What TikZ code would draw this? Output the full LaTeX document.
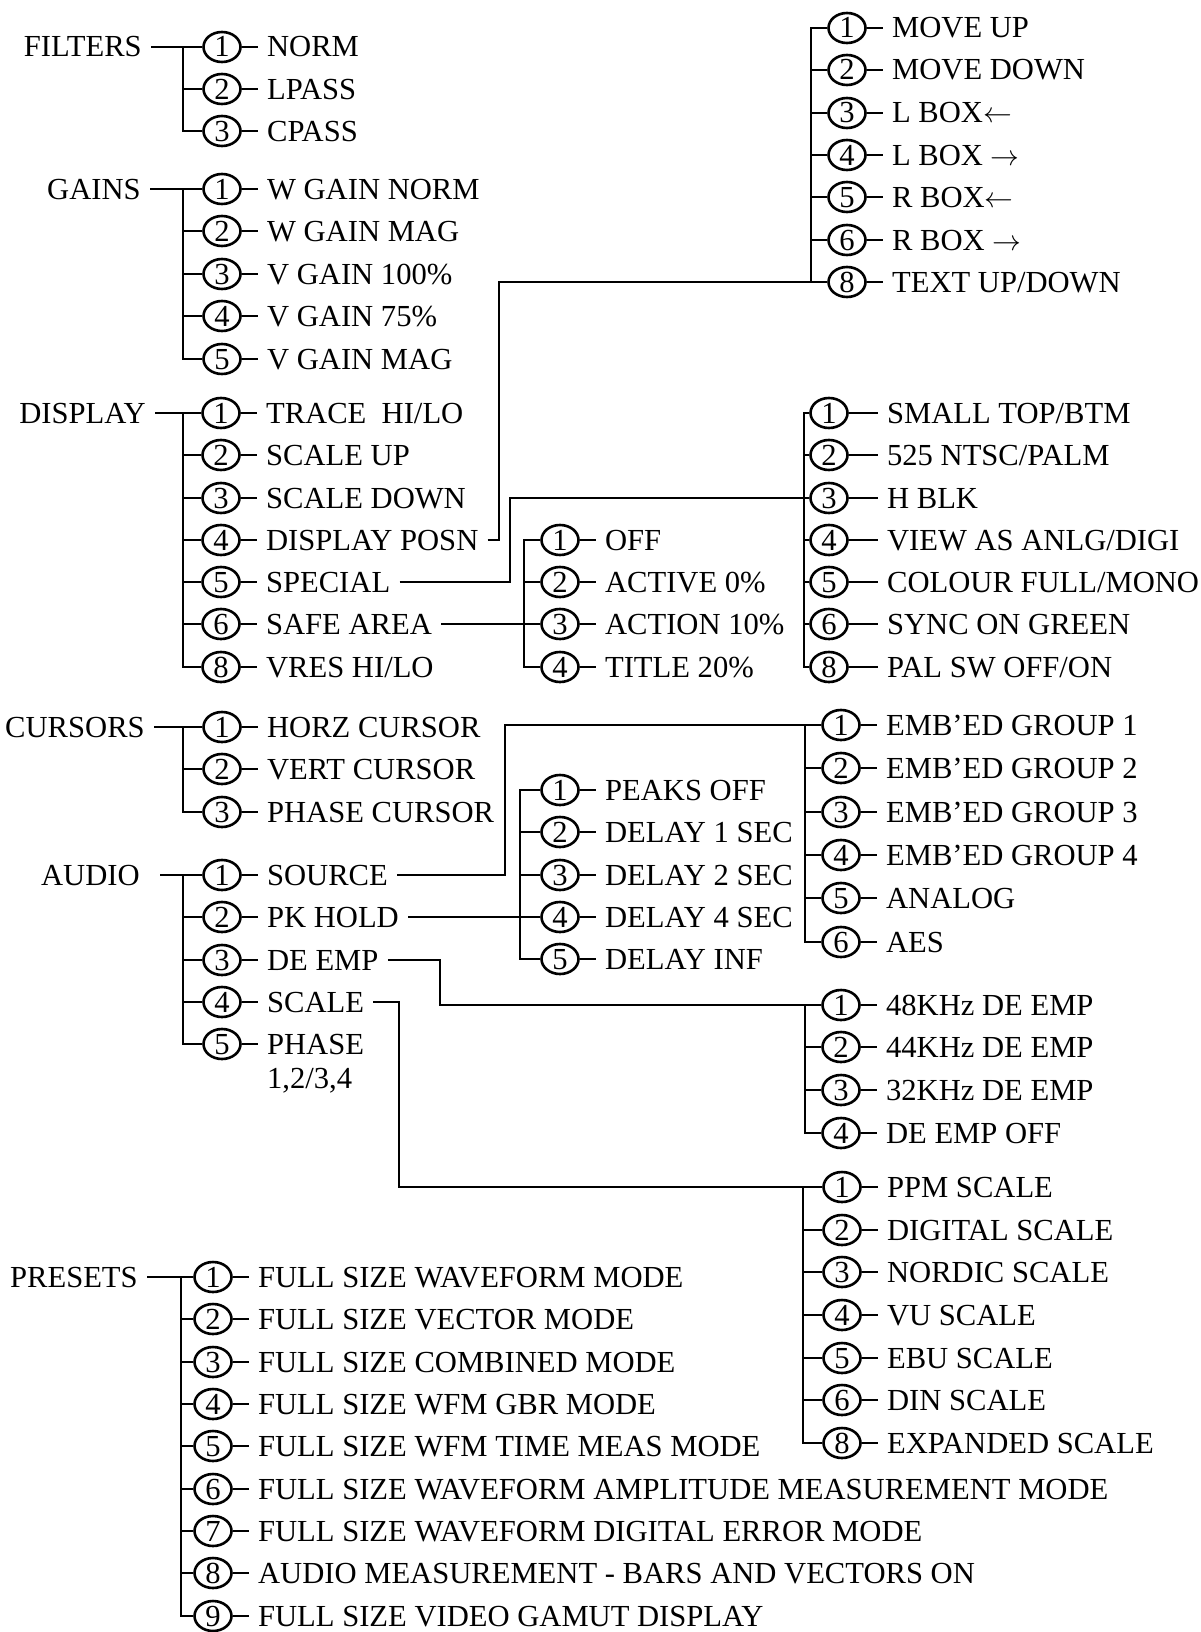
\documentclass[tikz,border=0pt]{standalone}
\usepackage{fontspec}
\setmainfont{Liberation Serif}
\usetikzlibrary{positioning,shapes.geometric}

\begin{document}
\begin{tikzpicture}[x=0.5pt,y=-0.5pt,line width=1.3pt,node distance=8pt,
    every node/.style={font=\fontsize{15.3pt}{17pt}\selectfont},
    num/.style={shape=ellipse,draw=black,minimum width=18.5pt,minimum height=15pt,inner sep=0pt,text height=10pt,text depth=0pt},
    item/.style={inner xsep=4pt,inner ysep=0pt,text height=10pt,text depth=0pt},
    head/.style={anchor=east,inner xsep=4pt,inner ysep=0pt,text height=10pt,text depth=0pt}]
\useasboundingbox (0,0) rectangle (1200,1632);

% filters
\node[head] (FILTERS) at (151,47) {FILTERS};
\node[num] (F1) at (222,47) {1}; \node[item,right=of F1] (F1t) {NORM}; \draw (F1) -- (F1t);
\node[num] (F2) at (222,89) {2}; \node[item,right=of F2] (F2t) {LPASS}; \draw (F2) -- (F2t);
\node[num] (F3) at (222,131) {3}; \node[item,right=of F3] (F3t) {CPASS}; \draw (F3) -- (F3t);
\coordinate (Fb) at (183,47);
\draw (FILTERS) -- (F1);
\draw (Fb) |- (F3);
\draw (F2) -- (F2 -| Fb);

% gains
\node[head] (GAINS) at (150,189) {GAINS};
\node[num] (G1) at (222,189) {1}; \node[item,right=of G1] (G1t) {W GAIN NORM}; \draw (G1) -- (G1t);
\node[num] (G2) at (222,231) {2}; \node[item,right=of G2] (G2t) {W GAIN MAG}; \draw (G2) -- (G2t);
\node[num] (G3) at (222,274) {3}; \node[item,right=of G3] (G3t) {V GAIN 100\%}; \draw (G3) -- (G3t);
\node[num] (G4) at (222,316) {4}; \node[item,right=of G4] (G4t) {V GAIN 75\%}; \draw (G4) -- (G4t);
\node[num] (G5) at (222,359) {5}; \node[item,right=of G5] (G5t) {V GAIN MAG}; \draw (G5) -- (G5t);
\coordinate (Gb) at (183,189);
\draw (GAINS) -- (G1);
\draw (Gb) |- (G5);
\draw (G2) -- (G2 -| Gb);
\draw (G3) -- (G3 -| Gb);
\draw (G4) -- (G4 -| Gb);

% display
\node[head] (DISPLAY) at (155,413) {DISPLAY};
\node[num] (D1) at (221,413) {1}; \node[item,right=of D1] (D1t) {TRACE\ \ HI/LO}; \draw (D1) -- (D1t);
\node[num] (D2) at (221,455) {2}; \node[item,right=of D2] (D2t) {SCALE UP}; \draw (D2) -- (D2t);
\node[num] (D3) at (221,498) {3}; \node[item,right=of D3] (D3t) {SCALE DOWN}; \draw (D3) -- (D3t);
\node[num] (D4) at (221,540) {4}; \node[item,right=of D4] (D4t) {DISPLAY POSN}; \draw (D4) -- (D4t);
\node[num] (D5) at (221,582) {5}; \node[item,right=of D5] (D5t) {SPECIAL}; \draw (D5) -- (D5t);
\node[num] (D6) at (221,624) {6}; \node[item,right=of D6] (D6t) {SAFE AREA}; \draw (D6) -- (D6t);
\node[num] (D8) at (221,667) {8}; \node[item,right=of D8] (D8t) {VRES HI/LO}; \draw (D8) -- (D8t);
\coordinate (Db) at (183,413);
\draw (DISPLAY) -- (D1);
\draw (Db) |- (D8);
\draw (D2) -- (D2 -| Db);
\draw (D3) -- (D3 -| Db);
\draw (D4) -- (D4 -| Db);
\draw (D5) -- (D5 -| Db);
\draw (D6) -- (D6 -| Db);

% display posn
\node[num] (M1) at (847,28) {1}; \node[item,right=of M1] (M1t) {MOVE UP}; \draw (M1) -- (M1t);
\node[num] (M2) at (847,70) {2}; \node[item,right=of M2] (M2t) {MOVE DOWN}; \draw (M2) -- (M2t);
\node[num] (M3) at (847,113) {3}; \node[item,right=of M3] (M3t) {L BOX$\leftarrow$}; \draw (M3) -- (M3t);
\node[num] (M4) at (847,155) {4}; \node[item,right=of M4] (M4t) {L BOX $\rightarrow$}; \draw (M4) -- (M4t);
\node[num] (M5) at (847,197) {5}; \node[item,right=of M5] (M5t) {R BOX$\leftarrow$}; \draw (M5) -- (M5t);
\node[num] (M6) at (847,240) {6}; \node[item,right=of M6] (M6t) {R BOX $\rightarrow$}; \draw (M6) -- (M6t);
\node[num] (M8) at (847,282) {8}; \node[item,right=of M8] (M8t) {TEXT UP/DOWN}; \draw (M8) -- (M8t);
\coordinate (Mb) at (811,28);
\coordinate (posn) at (499,282);
\draw (M1) -- (Mb) -- (M8 -| Mb);
\draw (M2) -- (M2 -| Mb);
\draw (M3) -- (M3 -| Mb);
\draw (M4) -- (M4 -| Mb);
\draw (M5) -- (M5 -| Mb);
\draw (M6) -- (M6 -| Mb);
\draw (D4t) -| (posn) -- (M8);

% special
\node[num] (S1) at (829,413) {1}; \node[item,right=14.5pt of S1] (S1t) {SMALL TOP/BTM}; \draw (S1) -- (S1t);
\node[num] (S2) at (829,455) {2}; \node[item,right=14.5pt of S2] (S2t) {525 NTSC/PALM}; \draw (S2) -- (S2t);
\node[num] (S3) at (829,498) {3}; \node[item,right=14.5pt of S3] (S3t) {H BLK}; \draw (S3) -- (S3t);
\node[num] (S4) at (829,540) {4}; \node[item,right=14.5pt of S4] (S4t) {VIEW AS ANLG/DIGI}; \draw (S4) -- (S4t);
\node[num] (S5) at (829,582) {5}; \node[item,right=14.5pt of S5] (S5t) {COLOUR FULL/MONO}; \draw (S5) -- (S5t);
\node[num] (S6) at (829,624) {6}; \node[item,right=14.5pt of S6] (S6t) {SYNC ON GREEN}; \draw (S6) -- (S6t);
\node[num] (S8) at (829,667) {8}; \node[item,right=14.5pt of S8] (S8t) {PAL SW OFF/ON}; \draw (S8) -- (S8t);
\coordinate (Sb) at (804,413);
\coordinate (spec) at (510,498);
\draw (S1) -- (Sb) |- (S8);
\draw (S2) -- (S2 -| Sb);
\draw (S4) -- (S4 -| Sb);
\draw (S5) -- (S5 -| Sb);
\draw (S6) -- (S6 -| Sb);
\draw (D5t) -| (spec) -- (S3);

% safe area
\node[num] (V1) at (560,540) {1}; \node[item,right=of V1] (V1t) {OFF}; \draw (V1) -- (V1t);
\node[num] (V2) at (560,582) {2}; \node[item,right=of V2] (V2t) {ACTIVE 0\%}; \draw (V2) -- (V2t);
\node[num] (V3) at (560,624) {3}; \node[item,right=of V3] (V3t) {ACTION 10\%}; \draw (V3) -- (V3t);
\node[num] (V4) at (560,667) {4}; \node[item,right=of V4] (V4t) {TITLE 20\%}; \draw (V4) -- (V4t);
\coordinate (Vb) at (524,540);
\draw (V1) -- (Vb) |- (V4);
\draw (V2) -- (V2 -| Vb);
\draw (D6t) -- (V3);

% cursors
\node[head] (CURSORS) at (154,727) {CURSORS};
\node[num] (K1) at (222,727) {1}; \node[item,right=of K1] (K1t) {HORZ CURSOR}; \draw (K1) -- (K1t);
\node[num] (K2) at (222,769) {2}; \node[item,right=of K2] (K2t) {VERT CURSOR}; \draw (K2) -- (K2t);
\node[num] (K3) at (222,812) {3}; \node[item,right=of K3] (K3t) {PHASE CURSOR}; \draw (K3) -- (K3t);
\coordinate (Kb) at (183,727);
\draw (CURSORS) -- (K1);
\draw (Kb) |- (K3);
\draw (K2) -- (K2 -| Kb);

% audio
\node[head,inner xsep=9.5pt] (AUDIO) at (160,875) {AUDIO};
\node[num] (A1) at (222,875) {1}; \node[item,right=of A1] (A1t) {SOURCE}; \draw (A1) -- (A1t);
\node[num] (A2) at (222,917) {2}; \node[item,right=of A2] (A2t) {PK HOLD}; \draw (A2) -- (A2t);
\node[num] (A3) at (222,960) {3}; \node[item,right=of A3] (A3t) {DE EMP}; \draw (A3) -- (A3t);
\node[num] (A4) at (222,1002) {4}; \node[item,right=of A4] (A4t) {SCALE}; \draw (A4) -- (A4t);
\node[num] (A5) at (222,1044) {5}; \node[item,right=of A5] (A5t) {PHASE}; \draw (A5) -- (A5t);
\node[item,anchor=west] (A5u) at (A5t.west |- 0,1078) {1,2/3,4};
\coordinate (Ab) at (183,875);
\draw (AUDIO) -- (A1);
\draw (Ab) |- (A5);
\draw (A2) -- (A2 -| Ab);
\draw (A3) -- (A3 -| Ab);
\draw (A4) -- (A4 -| Ab);

% source
\node[num] (U1) at (841,725) {1}; \node[item,right=of U1] (U1t) {EMB'ED GROUP 1}; \draw (U1) -- (U1t);
\node[num] (U2) at (841,768) {2}; \node[item,right=of U2] (U2t) {EMB'ED GROUP 2}; \draw (U2) -- (U2t);
\node[num] (U3) at (841,812) {3}; \node[item,right=of U3] (U3t) {EMB'ED GROUP 3}; \draw (U3) -- (U3t);
\node[num] (U4) at (841,855) {4}; \node[item,right=of U4] (U4t) {EMB'ED GROUP 4}; \draw (U4) -- (U4t);
\node[num] (U5) at (841,898) {5}; \node[item,right=of U5] (U5t) {ANALOG}; \draw (U5) -- (U5t);
\node[num] (U6) at (841,942) {6}; \node[item,right=of U6] (U6t) {AES}; \draw (U6) -- (U6t);
\coordinate (Ub) at (805,725);
\coordinate (src) at (505,725);
\draw (Ub) |- (U6);
\draw (U2) -- (U2 -| Ub);
\draw (U3) -- (U3 -| Ub);
\draw (U4) -- (U4 -| Ub);
\draw (U5) -- (U5 -| Ub);
\draw (A1t) -| (src) -- (U1);

% pk hold
\node[num] (P1) at (560,790) {1}; \node[item,right=of P1] (P1t) {PEAKS OFF}; \draw (P1) -- (P1t);
\node[num] (P2) at (560,832) {2}; \node[item,right=of P2] (P2t) {DELAY 1 SEC}; \draw (P2) -- (P2t);
\node[num] (P3) at (560,875) {3}; \node[item,right=of P3] (P3t) {DELAY 2 SEC}; \draw (P3) -- (P3t);
\node[num] (P4) at (560,917) {4}; \node[item,right=of P4] (P4t) {DELAY 4 SEC}; \draw (P4) -- (P4t);
\node[num] (P5) at (560,959) {5}; \node[item,right=of P5] (P5t) {DELAY INF}; \draw (P5) -- (P5t);
\coordinate (Pb) at (520,790);
\draw (P1) -- (Pb) |- (P5);
\draw (P2) -- (P2 -| Pb);
\draw (P3) -- (P3 -| Pb);
\draw (A2t) -- (P4);

% de emp
\node[num] (E1) at (841,1005) {1}; \node[item,right=of E1] (E1t) {48KHz DE EMP}; \draw (E1) -- (E1t);
\node[num] (E2) at (841,1047) {2}; \node[item,right=of E2] (E2t) {44KHz DE EMP}; \draw (E2) -- (E2t);
\node[num] (E3) at (841,1090) {3}; \node[item,right=of E3] (E3t) {32KHz DE EMP}; \draw (E3) -- (E3t);
\node[num] (E4) at (841,1133) {4}; \node[item,right=of E4] (E4t) {DE EMP OFF}; \draw (E4) -- (E4t);
\coordinate (Eb) at (805,1005);
\coordinate (demp) at (440,1005);
\draw (Eb) |- (E4);
\draw (E2) -- (E2 -| Eb);
\draw (E3) -- (E3 -| Eb);
\draw (A3t) -| (demp) -- (E1);

% scale
\node[num] (C1) at (842,1187) {1}; \node[item,right=of C1] (C1t) {PPM SCALE}; \draw (C1) -- (C1t);
\node[num] (C2) at (842,1230) {2}; \node[item,right=of C2] (C2t) {DIGITAL SCALE}; \draw (C2) -- (C2t);
\node[num] (C3) at (842,1272) {3}; \node[item,right=of C3] (C3t) {NORDIC SCALE}; \draw (C3) -- (C3t);
\node[num] (C4) at (842,1315) {4}; \node[item,right=of C4] (C4t) {VU SCALE}; \draw (C4) -- (C4t);
\node[num] (C5) at (842,1358) {5}; \node[item,right=of C5] (C5t) {EBU SCALE}; \draw (C5) -- (C5t);
\node[num] (C6) at (842,1400) {6}; \node[item,right=of C6] (C6t) {DIN SCALE}; \draw (C6) -- (C6t);
\node[num] (C8) at (842,1443) {8}; \node[item,right=of C8] (C8t) {EXPANDED SCALE}; \draw (C8) -- (C8t);
\coordinate (Cb) at (803,1187);
\coordinate (scl) at (399,1187);
\draw (Cb) |- (C8);
\draw (C2) -- (C2 -| Cb);
\draw (C3) -- (C3 -| Cb);
\draw (C4) -- (C4 -| Cb);
\draw (C5) -- (C5 -| Cb);
\draw (C6) -- (C6 -| Cb);
\draw (A4t) -| (scl) -- (C1);

% presets
\node[head] (PRESETS) at (147,1277) {PRESETS};
\node[num] (R1) at (213,1277) {1}; \node[item,right=of R1] (R1t) {FULL SIZE WAVEFORM MODE}; \draw (R1) -- (R1t);
\node[num] (R2) at (213,1319) {2}; \node[item,right=of R2] (R2t) {FULL SIZE VECTOR MODE}; \draw (R2) -- (R2t);
\node[num] (R3) at (213,1362) {3}; \node[item,right=of R3] (R3t) {FULL SIZE COMBINED MODE}; \draw (R3) -- (R3t);
\node[num] (R4) at (213,1404) {4}; \node[item,right=of R4] (R4t) {FULL SIZE WFM GBR MODE}; \draw (R4) -- (R4t);
\node[num] (R5) at (213,1446) {5}; \node[item,right=of R5] (R5t) {FULL SIZE WFM TIME MEAS MODE}; \draw (R5) -- (R5t);
\node[num] (R6) at (213,1489) {6}; \node[item,right=of R6] (R6t) {FULL SIZE WAVEFORM AMPLITUDE MEASUREMENT MODE}; \draw (R6) -- (R6t);
\node[num] (R7) at (213,1531) {7}; \node[item,right=of R7] (R7t) {FULL SIZE WAVEFORM DIGITAL ERROR MODE}; \draw (R7) -- (R7t);
\node[num] (R8) at (213,1573) {8}; \node[item,right=of R8] (R8t) {AUDIO MEASUREMENT - BARS AND VECTORS ON}; \draw (R8) -- (R8t);
\node[num] (R9) at (213,1616) {9}; \node[item,right=of R9] (R9t) {FULL SIZE VIDEO GAMUT DISPLAY}; \draw (R9) -- (R9t);
\coordinate (Rb) at (181,1277);
\draw (PRESETS) -- (R1);
\draw (Rb) |- (R9);
\draw (R2) -- (R2 -| Rb);
\draw (R3) -- (R3 -| Rb);
\draw (R4) -- (R4 -| Rb);
\draw (R5) -- (R5 -| Rb);
\draw (R6) -- (R6 -| Rb);
\draw (R7) -- (R7 -| Rb);
\draw (R8) -- (R8 -| Rb);
\end{tikzpicture}
\end{document}
